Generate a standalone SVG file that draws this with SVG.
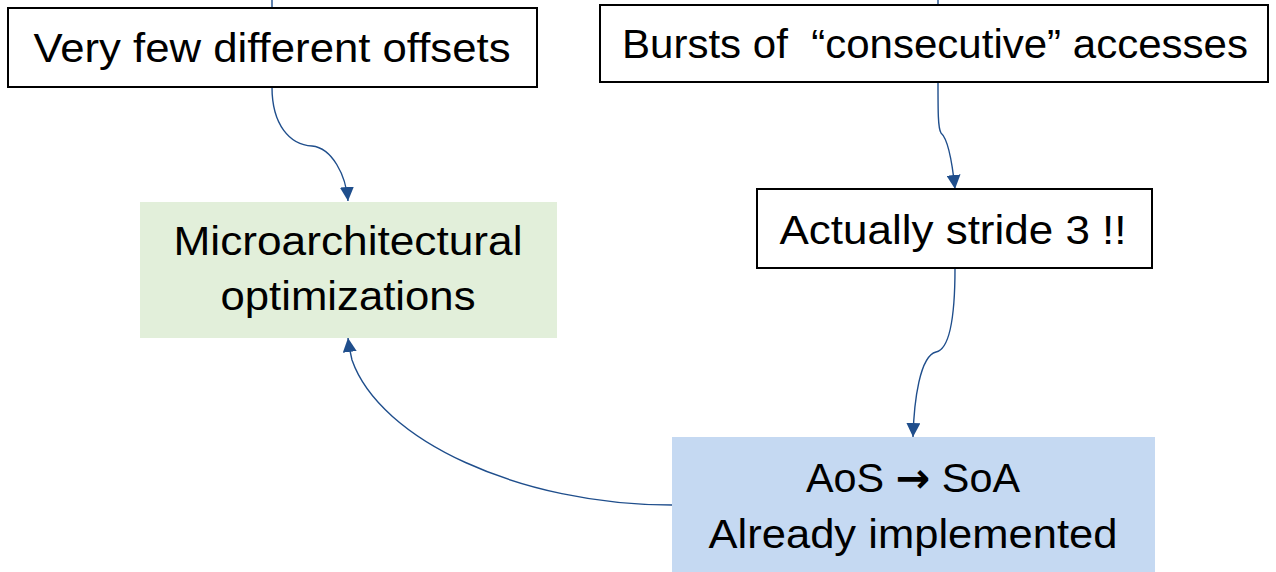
<svg xmlns="http://www.w3.org/2000/svg" width="1276" height="572" viewBox="0 0 1276 572">
  <style>
    .box { fill: #ffffff; stroke: #000000; stroke-width: 2; }
    .green { fill: #E2EFDA; }
    .blue { fill: #C5D9F2; }
    .lbl { font-family: "Liberation Sans", Arial, sans-serif; font-size: 41px; fill: #000000; text-anchor: middle; }
    .sym { font-family: "DejaVu Sans", sans-serif; font-weight: bold; }
    .conn { fill: none; stroke: #1F4E8C; stroke-width: 1.4; }
  </style>
  <defs>
    <marker id="arrow" viewBox="0 0 14 14" refX="14" refY="7" markerWidth="14" markerHeight="14" markerUnits="userSpaceOnUse" orient="auto">
      <path d="M0,0 L14,7 L0,14 Z" fill="#1F4E8C"/>
    </marker>
  </defs>

  <rect width="1276" height="572" fill="#ffffff"/>

  <g id="connectors">
    <!-- incoming lines from above the frame -->
    <path class="conn" d="M272,0 L272,8"/>
    <path class="conn" d="M938,0 L938,5"/>
    <!-- offsets -> microarchitectural optimizations -->
    <path class="conn" marker-end="url(#arrow)" d="M272,87 C272,125 290,145 312,146 C332,148 346,175 348,201"/>
    <!-- bursts -> stride 3 -->
    <path class="conn" marker-end="url(#arrow)" d="M938,82 C938,112 938,128 941,133 C947,138 952,160 955,189"/>
    <!-- stride 3 -> AoS to SoA -->
    <path class="conn" marker-end="url(#arrow)" d="M955,268 C955,330 946,350 936,352 C920,356 914,400 913,437"/>
    <!-- AoS to SoA -> microarchitectural optimizations -->
    <path class="conn" marker-end="url(#arrow)" d="M672,505 C520,505 380,440 352,360 C350,352 349,346 348,338"/>
  </g>

  <g id="node-offsets">
    <rect class="box" x="8" y="8" width="529" height="79"/>
    <text class="lbl" x="272" y="62" textLength="477" lengthAdjust="spacingAndGlyphs">Very few different offsets</text>
  </g>

  <g id="node-bursts">
    <rect class="box" x="600" y="5" width="668" height="77"/>
    <text class="lbl" x="935" y="58" textLength="626" lengthAdjust="spacingAndGlyphs" xml:space="preserve">Bursts of  “consecutive” accesses</text>
  </g>

  <g id="node-stride">
    <rect class="box" x="757" y="189" width="395" height="79"/>
    <text class="lbl" x="953" y="244" textLength="347" lengthAdjust="spacingAndGlyphs">Actually stride 3 !!</text>
  </g>

  <g id="node-micro">
    <rect class="green" x="140" y="202" width="417" height="136"/>
    <text class="lbl" x="348" y="255" textLength="349" lengthAdjust="spacingAndGlyphs">Microarchitectural</text>
    <text class="lbl" x="348" y="310" textLength="255" lengthAdjust="spacingAndGlyphs">optimizations</text>
  </g>

  <g id="node-aos">
    <rect class="blue" x="672" y="437" width="483" height="135"/>
    <text class="lbl" x="913" y="492" textLength="214" lengthAdjust="spacingAndGlyphs">AoS <tspan class="sym">→</tspan> SoA</text>
    <text class="lbl" x="913" y="548" textLength="409" lengthAdjust="spacingAndGlyphs">Already implemented</text>
  </g>
</svg>
